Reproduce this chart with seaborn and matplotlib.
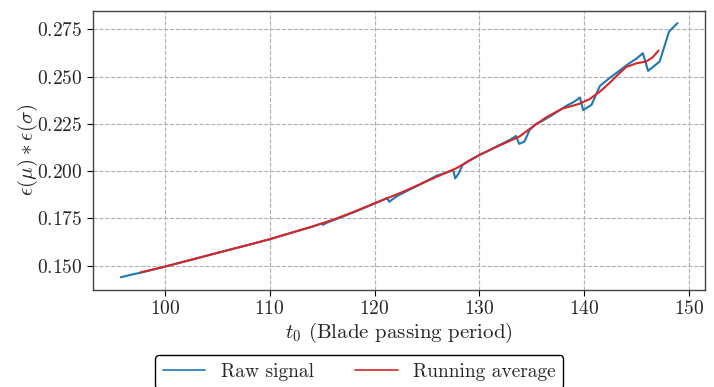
import numpy as np
import pandas as pd
import matplotlib
matplotlib.use("Agg")
import matplotlib.pyplot as plt
import seaborn as sns

# raw signal (x goes a little back and forth at the jumps)
raw_t = [95.8, 97.0, 98.0, 100.0, 102.0, 104.0, 106.0, 108.0, 110.0, 112.0,
         114.0, 114.9, 115.1, 115.4, 117.0, 119.0, 120.5, 121.2, 121.4, 121.7,
         122.2, 124.0, 125.9, 127.0, 127.5, 127.7, 128.0, 128.4, 129.0, 130.0,
         131.0, 132.0, 133.0, 133.5, 133.8, 134.3, 134.8, 135.4, 136.0, 137.0,
         138.3, 139.0, 139.6, 139.9, 140.7, 141.5, 142.4, 143.1, 144.3, 145.0,
         145.6, 146.1, 147.2, 148.1, 148.5, 148.9]
raw_val = [0.1439, 0.1455, 0.1467, 0.1495, 0.1524, 0.1553, 0.1582, 0.1610, 0.1640, 0.1673,
           0.1705, 0.1722, 0.1716, 0.1726, 0.1760, 0.1805, 0.1840, 0.1858, 0.1838, 0.1850,
           0.1870, 0.1920, 0.1975, 0.1995, 0.2006, 0.1962, 0.1985, 0.2033, 0.2055, 0.2085,
           0.2112, 0.2140, 0.2168, 0.2186, 0.2144, 0.2156, 0.2218, 0.2249, 0.2265, 0.2298,
           0.2345, 0.2365, 0.2389, 0.2323, 0.2350, 0.2450, 0.2491, 0.2520, 0.2570, 0.2595,
           0.2623, 0.2530, 0.2579, 0.2738, 0.2760, 0.2782]

# running average
avg_t = [97.7, 100, 102, 104, 106, 108, 110, 112, 114, 116, 118, 120, 122.4, 124,
         125.6, 127.8, 130.0, 131.9, 133.8, 135.1, 136.4, 137.9, 139.5, 140.5, 141.5,
         142.5, 143.3, 144.0, 145.0, 145.9, 146.5, 147.1]
avg_val = [0.1465, 0.1495, 0.1524, 0.1553, 0.1582, 0.1611, 0.1640, 0.1673, 0.1706,
           0.1742, 0.1784, 0.1830, 0.1883, 0.1922, 0.1962, 0.2015, 0.2085, 0.2135,
           0.2182, 0.2235, 0.2285, 0.2330, 0.2355, 0.2380, 0.2420, 0.2470, 0.2514,
           0.2550, 0.2570, 0.2579, 0.2600, 0.2637]

sns.set_style("ticks")
plt.rcParams['font.family'] = ['cmr10', 'DejaVu Serif']
plt.rcParams['mathtext.fontset'] = 'cm'
plt.rcParams['axes.formatter.use_mathtext'] = True

raw = pd.DataFrame({'t': raw_t, 'v': raw_val})
avg = pd.DataFrame({'t': avg_t, 'v': avg_val})

fig = plt.figure(figsize=(7.14, 3.87), dpi=100)
ax = fig.add_axes([0.130, 0.2506, 0.857, 0.722])

sns.lineplot(data=raw, x='t', y='v', sort=False, estimator=None, ax=ax,
             color='#1f77b4', lw=1.5, label='Raw signal')
sns.lineplot(data=avg, x='t', y='v', sort=False, estimator=None, ax=ax,
             color='#d62728', lw=1.5, label='Running average')

ax.grid(True, ls='--', color='#b0b0b0', lw=0.8)
for s in ax.spines.values():
    s.set_color('#444444')
    s.set_linewidth(1.0)
ax.tick_params(labelsize=14, color='black', length=4)
ax.set_yticks([0.150, 0.175, 0.200, 0.225, 0.250, 0.275])
ax.set_xticks([100, 110, 120, 130, 140, 150])
ax.set_xlim(93.13, 151.5)
ax.set_ylim(0.13715, 0.28484)
ax.set_xlabel(r'$t_0$ (Blade passing period)', fontsize=15, labelpad=2)
ax.set_ylabel(r'$\epsilon(\mu)\:\ast\:\epsilon(\sigma)$', fontsize=15, labelpad=-2)

h, l = ax.get_legend_handles_labels()
ax.get_legend().remove()
leg = fig.legend(h, l, loc='upper center', bbox_to_anchor=(0.503, 0.083), ncol=2,
                 fontsize=14, frameon=True, edgecolor='black', framealpha=1,
                 fancybox=True, columnspacing=2.1, borderaxespad=0,
                 handlelength=2.2)
leg.get_frame().set_linewidth(1.0)
for ln in leg.get_lines():
    ln.set_linewidth(1.2)

fig.savefig('out.png', dpi=100)
